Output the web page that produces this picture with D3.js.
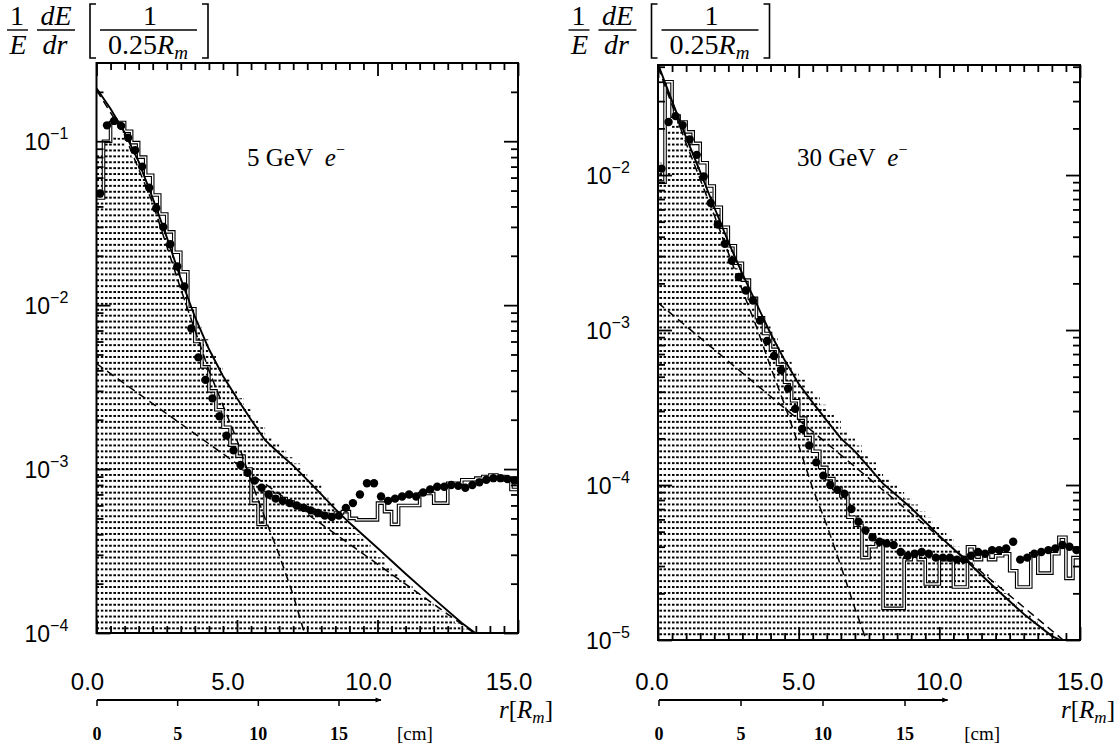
<!DOCTYPE html>
<html>
<head>
<meta charset="utf-8">
<script src="https://cdn.jsdelivr.net/npm/d3@7"></script>
<style>
  body { margin: 0; background: #fff; }
  text { fill: #000; }
</style>
</head>
<body>
<svg id="chart" width="1120" height="748"></svg>
<script>
// ---- data: radial bins of 0.25 R_m, r from 0 to 15 R_m ----
const BIN_W = 0.25
const binLo = d3.range(0, 15, BIN_W)

// 5 GeV e- (left panel)
const dataL = [0.048, 0.125, 0.133, 0.124, 0.105, 0.088, 0.07, 0.052, 0.039, 0.03,
  0.0235, 0.0172, 0.013, 0.0072, 0.0048, 0.0035, 0.0027, 0.0021, 0.0016, 0.0013,
  0.00106, 0.00095, 0.00085, 0.00077, 0.0007, 0.00066, 0.00064, 0.00062, 0.0006, 0.00058,
  0.00056, 0.00054, 0.00052, 0.00051, 0.00052, 0.00058, 0.00062, 0.0007, 0.00082, 0.00082,
  0.00068, 0.00064, 0.00066, 0.00068, 0.0007, 0.00068, 0.00072, 0.00075, 0.00078, 0.00078,
  0.0008, 0.00079, 0.00077, 0.0008, 0.00083, 0.00086, 0.00088, 0.00088, 0.00087, 0.00085]
const openL = [0.045, 0.1, 0.13, 0.13, 0.115, 0.098, 0.08, 0.062, 0.047, 0.036,
  0.028, 0.021, 0.016, 0.0095, 0.006, 0.0042, 0.003, 0.0023, 0.0018, 0.0014,
  0.0012, 0.001, 0.00062, 0.00046, 0.00072, 0.0007, 0.00066, 0.00063, 0.0006, 0.00058,
  0.00056, 0.00054, 0.00053, 0.00052, 0.00054, 0.00055, 0.0005, 0.00049, 0.00049, 0.00049,
  0.00062, 0.00055, 0.00046, 0.0006, 0.0006, 0.0006, 0.00071, 0.00071, 0.00062, 0.00062,
  0.00082, 0.00082, 0.00086, 0.00086, 0.00088, 0.0009, 0.00092, 0.0009, 0.00086, 0.00075]
const mcL = [0.085, 0.1, 0.11, 0.105, 0.092, 0.08, 0.066, 0.053, 0.042, 0.032,
  0.024, 0.018, 0.0135, 0.01, 0.0078, 0.0062, 0.005, 0.0042, 0.0036, 0.0031,
  0.0027, 0.0024, 0.002, 0.0018, 0.0016, 0.00145, 0.0013, 0.00118, 0.00108, 0.00098,
  0.0009, 0.0008, 0.0007, 0.00062, 0.00055, 0.0005, 0.00044, 0.0004, 0.00036, 0.00032,
  0.00029, 0.00026, 0.00024, 0.00022, 0.0002, 0.000185, 0.00017, 0.000158, 0.000145, 0.000135,
  0.000125, 0.000115, 0.000106, 0.0001, null, null, null, null, null, null]
const fitL = [[0, 0.21], [0.5, 0.158], [1, 0.113], [1.5, 0.075], [2, 0.045], [2.5, 0.026],
  [3, 0.0145], [3.5, 0.0085], [4, 0.0054], [4.5, 0.0037], [5, 0.0027], [5.5, 0.002],
  [6, 0.0015], [6.5, 0.00125], [7, 0.00105], [7.5, 0.00086], [8, 0.0007], [8.5, 0.00057],
  [9, 0.00047], [10, 0.00033], [11, 0.00023], [12, 0.000162], [13, 0.000115], [13.6, 0.0000965]]
const coreL = [[0, 0.205], [1, 0.109], [2, 0.042], [3, 0.0125], [4, 0.004], [5, 0.0015],
  [5.5, 0.00085], [6, 0.0005], [6.5, 0.0003], [7, 0.00017], [7.4, 0.0001]]
const haloL = [[0, 0.0044], [13.6, 0.0000955]]
const yExpL = [-1, -2, -3, -4]

// 30 GeV e- (right panel)
const dataR = [0.011, 0.022, 0.024, 0.021, 0.017, 0.0135, 0.0098, 0.0066, 0.0048, 0.0036,
  0.0028, 0.0022, 0.0018, 0.00155, 0.00115, 0.00085, 0.00068, 0.00055, 0.00042, 0.00031,
  0.00023, 0.00018, 0.00014, 0.000115, 0.0001, 0.000093, 0.000088, 0.00007, 0.000058, 0.000051,
  0.000046, 0.000043, 0.000042, 0.000041, 0.000037, 0.000035, 0.000036, 0.000037, 0.000036, 0.000034,
  0.000034, 0.000034, 0.000033, 0.000033, 0.000035, 0.000037, 0.000036, 0.000038, 0.000038, 0.000039,
  0.000043, 0.000033, 0.000034, 0.000036, 0.000037, 0.000038, 0.000039, 0.000041, 0.00004, 0.000038]
const openR = [0.009, 0.04, 0.024, 0.022, 0.019, 0.016, 0.012, 0.0085, 0.0062, 0.0046,
  0.0035, 0.0027, 0.0021, 0.0016, 0.0012, 0.00095, 0.00075, 0.0006, 0.00046, 0.00035,
  0.00027, 0.00021, 0.000165, 0.00013, 0.00011, 0.000095, 0.000085, 0.000062, 0.000055, 0.000034,
  0.00004, 0.000042, 0.000016, 0.000016, 0.000016, 0.000033, 0.000035, 0.000033, 0.000023, 0.000023,
  0.000034, 0.000033, 0.000022, 0.000022, 0.00004, 0.000033, 0.000036, 0.000033, 0.000035, 0.000036,
  0.000028, 0.000022, 0.000022, 0.000036, 0.000027, 0.000027, 0.000036, 0.000046, 0.000025, 0.000034]
const mcR = [0.012, 0.02, 0.021, 0.02, 0.017, 0.0135, 0.0105, 0.0078, 0.0058, 0.0044,
  0.0033, 0.0025, 0.0019, 0.00145, 0.0011, 0.0011, 0.0009, 0.00076, 0.00064, 0.00055,
  0.00048, 0.00042, 0.00037, 0.00033, 0.00029, 0.00026, 0.00023, 0.0002, 0.00018, 0.00016,
  0.00014, 0.000125, 0.00011, 0.0001, 0.00009, 0.000082, 0.000075, 0.000068, 0.000062, 0.000055,
  0.00005, 0.000045, 0.00004, 0.000036, 0.000032, 0.000029, 0.000027, 0.000024, 0.000022, 0.00002,
  0.000018, 0.0000165, 0.000015, 0.0000137, 0.0000125, 0.0000113, 0.0000103, null, null, null]
const fitR = [[0, 0.052], [0.5, 0.03], [1, 0.0175], [1.5, 0.0105], [2, 0.0062], [2.5, 0.0037],
  [3, 0.0023], [3.5, 0.00148], [4, 0.00095], [4.5, 0.00064], [5, 0.00045], [5.5, 0.00034],
  [6, 0.00026], [6.5, 0.0002], [7, 0.000165], [7.5, 0.00013], [8, 0.000102], [9, 0.000071],
  [10, 0.000047], [11, 0.000032], [12, 0.0000215], [13, 0.0000147], [14, 0.0000106], [14.3, 0.00001]]
const coreR = [[0, 0.05], [1, 0.016], [2, 0.0055], [3, 0.0018], [3.5, 0.00105], [4, 0.00058],
  [4.5, 0.00033], [5, 0.00018], [5.5, 0.000095], [6, 0.000055], [6.5, 0.00003], [7, 0.000016], [7.4, 0.00001]]
const haloR = [[0, 0.0015], [14.4, 0.00001]]
const yExpR = [-2, -3, -4, -5]

// axis labels
const xTickValues = [0, 5, 10, 15]
const xTickLabels = ['0.0', '5.0', '10.0', '15.0']
const cmTicks = [0, 5, 10, 15]

const panels = [
  { id: 'L', data: dataL, open: openL, mc: mcL, fit: fitL, core: coreL, halo: haloL, yExp: yExpL,
    energy: '5', x0: 96.5, x1: 518, y0: 63, y1: 633, yDomain: [1e-4, 0.3], labelShift: [-9, -9, -9, -9],
    cmX: [97, 339], textX: 247, titleX: 0 },
  { id: 'R', data: dataR, open: openR, mc: mcR, fit: fitR, core: coreR, halo: haloR, yExp: yExpR,
    energy: '30', x0: 658, x1: 1080, y0: 65, y1: 640, yDomain: [1e-5, 0.0513], labelShift: [-6, 0, 0, 0],
    cmX: [659, 905], textX: 797, titleX: 561.5 }
]

const svg = d3.select('#chart')
const defs = svg.append('defs')
// printed stipple: small square dots on a 4.2 x 5.9 px grid
const pat = defs.append('pattern').attr('id', 'stipple').attr('patternUnits', 'userSpaceOnUse')
  .attr('width', 4.2).attr('height', 5.9)
pat.append('rect').attr('x', 0).attr('y', 2).attr('width', 2.5).attr('height', 2.2).attr('fill', '#000')
  .attr('shape-rendering', 'crispEdges')
defs.append('marker').attr('id', 'arrow').attr('viewBox', '0 0 10 10').attr('refX', 9).attr('refY', 5)
  .attr('markerWidth', 8).attr('markerHeight', 6).attr('markerUnits', 'userSpaceOnUse')
  .attr('orient', 'auto').append('path').attr('d', 'M0,1 L10,5 L0,9 Z').attr('fill', '#000')

const SERIF = "'Liberation Serif', 'DejaVu Serif', serif"
const SANS = "'Liberation Sans', 'DejaVu Sans', sans-serif"

panels.forEach(p => drawPanel(p))

function drawPanel(p) {
  const x = d3.scaleLinear().domain([0, 15]).range([p.x0, p.x1])
  const y = d3.scaleLog().domain(p.yDomain).range([p.y1, p.y0])
  const g = svg.append('g')

  defs.append('clipPath').attr('id', 'clip' + p.id).append('rect')
    .attr('x', p.x0).attr('y', p.y0).attr('width', p.x1 - p.x0).attr('height', p.y1 - p.y0)
  const plot = g.append('g').attr('clip-path', `url(#clip${p.id})`)

  // stippled histogram (simulation)
  const mcPts = p.mc.map((v, i) => ({ r: binLo[i], v })).filter(d => d.v != null)
  mcPts.push({ r: mcPts[mcPts.length - 1].r + BIN_W, v: mcPts[mcPts.length - 1].v })
  const area = d3.area().curve(d3.curveStepAfter).x(d => x(d.r)).y0(p.y1 + 5).y1(d => y(d.v))
  plot.append('path').attr('d', area(mcPts)).attr('fill', 'url(#stipple)')

  // open histogram (hollow step line)
  const opPts = p.open.map((v, i) => ({ r: binLo[i], v }))
  opPts.push({ r: 15, v: p.open[p.open.length - 1] })
  const step = d3.line().curve(d3.curveStepAfter).x(d => x(d.r)).y(d => y(d.v))
  plot.append('path').attr('d', step(opPts)).attr('fill', 'none')
    .attr('stroke', '#000').attr('stroke-width', 3.6)
  plot.append('path').attr('d', step(opPts)).attr('fill', 'none')
    .attr('stroke', '#fff').attr('stroke-width', 1.4)

  // fit components
  const line = d3.line().x(d => x(d[0])).y(d => y(d[1]))
  plot.append('path').attr('d', line(p.halo)).attr('fill', 'none').attr('stroke', '#000')
    .attr('stroke-width', 1.5).attr('stroke-dasharray', '8,5')
  plot.append('path').attr('d', line(p.core)).attr('fill', 'none').attr('stroke', '#000')
    .attr('stroke-width', 1.5).attr('stroke-dasharray', '8,5')
  plot.append('path').attr('d', line(p.fit)).attr('fill', 'none').attr('stroke', '#000')
    .attr('stroke-width', 1.9)

  // measured points
  plot.selectAll('circle.pt').data(p.data).join('circle').attr('class', 'pt')
    .attr('cx', (d, i) => x(binLo[i] + BIN_W / 2)).attr('cy', d => y(d)).attr('r', 4.2).attr('fill', '#000')

  // frame and inward ticks
  g.append('rect').attr('x', p.x0).attr('y', p.y0).attr('width', p.x1 - p.x0).attr('height', p.y1 - p.y0)
    .attr('fill', 'none').attr('stroke', '#000').attr('stroke-width', 2)

  const minorX = d3.range(0, 15.01, 0.5).filter(v => v % 5 !== 0)
  const decades = d3.range(Math.ceil(Math.log10(p.yDomain[0])), Math.floor(Math.log10(p.yDomain[1])) + 1)
    .map(e => Math.pow(10, e))
  const minorY = []
  decades.forEach(d => d3.range(2, 10).forEach(k => { if (k * d < p.yDomain[1]) minorY.push(k * d) }))

  const axes = [
    [d3.axisTop(x).tickValues(xTickValues).tickSize(-13), `translate(0,${p.y0})`],
    [d3.axisTop(x).tickValues(minorX).tickSize(-7), `translate(0,${p.y0})`],
    [d3.axisBottom(x).tickValues(xTickValues).tickSize(-13), `translate(0,${p.y1})`],
    [d3.axisBottom(x).tickValues(minorX).tickSize(-7), `translate(0,${p.y1})`],
    [d3.axisLeft(y).tickValues(decades).tickSize(-14), `translate(${p.x0},0)`],
    [d3.axisLeft(y).tickValues(minorY).tickSize(-7), `translate(${p.x0},0)`],
    [d3.axisRight(y).tickValues(decades).tickSize(-14), `translate(${p.x1},0)`],
    [d3.axisRight(y).tickValues(minorY).tickSize(-7), `translate(${p.x1},0)`]
  ]
  axes.forEach(([ax, tr]) => {
    const a = g.append('g').attr('transform', tr).call(ax.tickFormat(''))
    a.select('.domain').remove()
    a.selectAll('line').attr('stroke', '#000').attr('stroke-width', 1.8)
  })

  // y tick labels: "10" centred on the tick, exponent raised
  p.yExp.forEach(e => {
    const t = g.append('text').attr('x', p.x0 - 72).attr('y', y(Math.pow(10, e)) + 9)
      .attr('font-family', SANS).attr('font-size', 23)
    t.append('tspan').text('10')
    t.append('tspan').attr('dy', -11).attr('font-size', 16).text('\u2212' + Math.abs(e))
  })

  // x tick labels
  g.selectAll('text.xl').data(xTickLabels).join('text').attr('class', 'xl')
    .attr('x', (d, i) => x(xTickValues[i]) + p.labelShift[i]).attr('y', 690).attr('text-anchor', 'middle')
    .attr('font-family', SANS).attr('font-size', 24).text(d => d)

  // cm scale arrow
  const cm = d3.scaleLinear().domain([0, 15]).range(p.cmX)
  g.append('line').attr('x1', cm(0)).attr('x2', cm(17.6)).attr('y1', 700).attr('y2', 700)
    .attr('stroke', '#000').attr('stroke-width', 2.2).attr('marker-end', 'url(#arrow)')
  g.selectAll('line.cmt').data(cmTicks).join('line').attr('class', 'cmt')
    .attr('x1', d => cm(d)).attr('x2', d => cm(d)).attr('y1', 700).attr('y2', 706)
    .attr('stroke', '#000').attr('stroke-width', 1.5)
  g.selectAll('text.cml').data(cmTicks).join('text').attr('class', 'cml')
    .attr('x', d => cm(d)).attr('y', 740).attr('text-anchor', 'middle')
    .attr('font-family', SERIF).attr('font-weight', 'bold').attr('font-size', 18).text(d => d)
  g.append('text').attr('x', cm(19.7)).attr('y', 740).attr('text-anchor', 'middle')
    .attr('font-family', SERIF).attr('font-size', 19).text('[cm]')

  const rl = g.append('text').attr('x', p.x1 + 8).attr('y', 718).attr('text-anchor', 'middle')
    .attr('font-family', SERIF).attr('font-size', 25)
  rl.append('tspan').attr('font-style', 'italic').text('r')
  rl.append('tspan').text('[')
  rl.append('tspan').attr('font-style', 'italic').text('R')
  rl.append('tspan').attr('font-style', 'italic').attr('font-size', 17).attr('dy', 5).text('m')
  rl.append('tspan').attr('dy', -5).text(']')

  // energy label
  const lab = g.append('text').attr('x', p.textX).attr('y', 166)
    .attr('font-family', SERIF).attr('font-size', 25)
  lab.append('tspan').text(p.energy + ' GeV ')
  lab.append('tspan').attr('dx', 6).attr('font-style', 'italic').text('e')
  lab.append('tspan').attr('dy', -11).attr('font-size', 16).text('\u2212')

  drawTitle(p.titleX)
}

function drawTitle(ox) {
  const t = svg.append('g').attr('transform', `translate(${ox},0)`)
    .attr('font-family', SERIF).attr('font-size', 28)
  const txt = (x, yb, s, it) => t.append('text').attr('x', x).attr('y', yb).attr('text-anchor', 'middle')
    .attr('font-style', it ? 'italic' : 'normal').text(s)
  const bar = (a, b) => t.append('line').attr('x1', a).attr('x2', b).attr('y1', 30).attr('y2', 30)
    .attr('stroke', '#000').attr('stroke-width', 1.4)
  txt(17, 25, '1'); bar(7, 28); txt(18, 54, 'E', true)
  txt(56, 25, 'dE', true); bar(37, 75); txt(55, 54, 'dr', true)
  t.append('path').attr('d', 'M96,4 H90 V58 H96').attr('fill', 'none').attr('stroke', '#000').attr('stroke-width', 1.6)
  txt(150, 25, '1'); bar(100, 197)
  const d = t.append('text').attr('x', 148).attr('y', 54).attr('text-anchor', 'middle')
  d.append('tspan').text('0.25')
  d.append('tspan').attr('font-style', 'italic').text('R')
  d.append('tspan').attr('font-style', 'italic').attr('font-size', 19).attr('dy', 5).text('m')
  t.append('path').attr('d', 'M202,4 H208 V58 H202').attr('fill', 'none').attr('stroke', '#000').attr('stroke-width', 1.6)
}
</script>
</body>
</html>
